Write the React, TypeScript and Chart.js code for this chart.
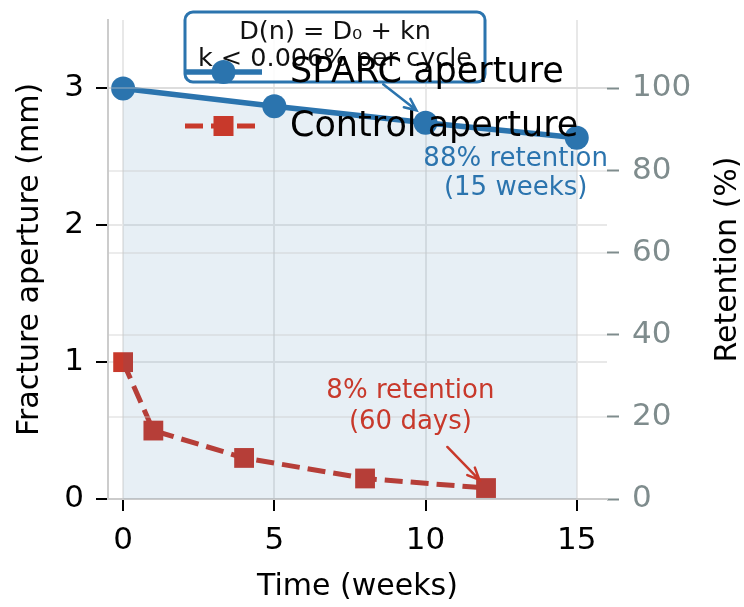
import { useEffect, useRef } from 'react';
import { Chart, registerables } from 'chart.js';

Chart.register(...registerables);

// Fracture aperture over time (mm)
const sparcWeeks = [0, 5, 10, 15];
const sparcAperture = [3.0, 2.87, 2.75, 2.64];
const controlWeeks = [0, 1, 4, 8, 12];
const controlAperture = [1.0, 0.5, 0.3, 0.15, 0.08];

// Axis ticks
const timeTicks = [0, 5, 10, 15];
const apertureTicks = [0, 1, 2, 3];
const retentionTicks = [0, 20, 40, 60, 80, 100];

// Text blocks
const formulaLines = ['D(n) = D₀ + kn', 'k < 0.006% per cycle'];
const sparcNote = ['88% retention', '(15 weeks)'];
const controlNote = ['8% retention', '(60 days)'];

const X_MIN = -0.5;
const X_MAX = 16;
const Y_MAX = 3.5;

const FONT = "'DejaVu Sans', 'Liberation Sans', sans-serif";
const BLUE = '#2b74ae';
const RED = '#c8392b';
const GRAY = '#7f8c8d';
const GRID = '#e8e8e8';
const SPINE = '#cccccc';

function drawArrow(
  ctx: CanvasRenderingContext2D,
  x1: number,
  y1: number,
  x2: number,
  y2: number,
  color: string,
) {
  const ang = Math.atan2(y2 - y1, x2 - x1);
  const head = 13;
  const spread = 0.42;
  ctx.save();
  ctx.strokeStyle = color;
  ctx.lineWidth = 2.5;
  ctx.lineCap = 'round';
  ctx.beginPath();
  ctx.moveTo(x1, y1);
  ctx.lineTo(x2, y2);
  ctx.moveTo(x2 - head * Math.cos(ang - spread), y2 - head * Math.sin(ang - spread));
  ctx.lineTo(x2, y2);
  ctx.lineTo(x2 - head * Math.cos(ang + spread), y2 - head * Math.sin(ang + spread));
  ctx.stroke();
  ctx.restore();
}

// keep the plot area fixed: no extra room for overhanging tick labels
function noLabelPadding(s: any) {
  s.paddingTop = 0;
  s.paddingBottom = 0;
  s.paddingLeft = 0;
  s.paddingRight = 0;
}

const overlay = {
  id: 'overlay',
  afterDatasetsDraw(chart: any) {
    // secondary axis grid sits above the plotted data
    const { ctx, chartArea, scales } = chart;
    const r = scales.y2;
    ctx.save();
    ctx.strokeStyle = 'rgba(200,200,200,0.35)';
    ctx.lineWidth = 2;
    for (const t of r.ticks) {
      const py = Math.round(r.getPixelForValue(t.value));
      ctx.beginPath();
      ctx.moveTo(chartArea.left, py);
      ctx.lineTo(chartArea.right, py);
      ctx.stroke();
    }
    ctx.restore();
  },
  afterDraw(chart: any) {
    const { ctx, scales, chartArea } = chart;
    const xs = scales.x;
    const ys = scales.y;
    const px = (v: number) => xs.getPixelForValue(v);
    const py = (v: number) => ys.getPixelForValue(v);

    ctx.save();

    // formula box
    ctx.beginPath();
    ctx.roundRect(185, 12, 300, 70, 8);
    ctx.fillStyle = 'rgba(255,255,255,0.85)';
    ctx.fill();
    ctx.strokeStyle = BLUE;
    ctx.lineWidth = 3;
    ctx.stroke();
    ctx.fillStyle = '#111';
    ctx.font = `25.5px ${FONT}`;
    ctx.textAlign = 'center';
    ctx.textBaseline = 'alphabetic';
    ctx.fillText(formulaLines[0], 335, 39);
    ctx.fillText(formulaLines[1], 335, 66);

    // legend
    const ds = chart.data.datasets;
    const lx0 = 185;
    const lx1 = 262;
    const mx = (lx0 + lx1) / 2;
    const rows = [72, 126];
    ds.forEach((d: any, i: number) => {
      const yy = rows[i];
      ctx.save();
      ctx.strokeStyle = d.borderColor;
      ctx.lineWidth = d.borderWidth;
      ctx.setLineDash(d.borderDash || []);
      ctx.beginPath();
      ctx.moveTo(lx0, yy);
      ctx.lineTo(lx1, yy);
      ctx.stroke();
      ctx.setLineDash([]);
      ctx.fillStyle = d.pointBackgroundColor;
      if (d.pointStyle === 'rect') {
        const s = 20;
        ctx.fillRect(mx - s / 2, yy - s / 2, s, s);
      } else {
        ctx.beginPath();
        ctx.arc(mx, yy, d.pointRadius, 0, Math.PI * 2);
        ctx.fill();
      }
      ctx.restore();
      ctx.fillStyle = '#000';
      ctx.font = `35px ${FONT}`;
      ctx.textAlign = 'left';
      ctx.textBaseline = 'middle';
      ctx.fillText(d.label, 290, yy + 1);
    });

    // annotations
    ctx.font = `26px ${FONT}`;
    ctx.textAlign = 'center';
    ctx.textBaseline = 'middle';
    ctx.fillStyle = BLUE;
    ctx.fillText(sparcNote[0], px(12.98), py(2.48));
    ctx.fillText(sparcNote[1], px(12.98), py(2.27));
    drawArrow(ctx, px(8.6), py(3.03), px(9.7), py(2.84), BLUE);

    ctx.fillStyle = RED;
    ctx.fillText(controlNote[0], px(9.5), py(0.79));
    ctx.fillText(controlNote[1], px(9.5), py(0.56));
    drawArrow(ctx, px(10.72), py(0.38), px(11.78), py(0.14), RED);

    // right axis title, reading bottom to top
    ctx.save();
    ctx.translate(728, (chartArea.top + chartArea.bottom) / 2);
    ctx.rotate(-Math.PI / 2);
    ctx.fillStyle = '#000';
    ctx.font = `30px ${FONT}`;
    ctx.textAlign = 'center';
    ctx.textBaseline = 'middle';
    ctx.fillText('Retention (%)', 0, 0);
    ctx.restore();

    ctx.restore();
  },
};

export default function App() {
  const ref = useRef<HTMLCanvasElement | null>(null);

  useEffect(() => {
    const canvas = ref.current;
    if (!canvas) return;
    const tickFont = { family: FONT, size: 31 };
    const chart = new Chart(canvas, {
      type: 'line',
      data: {
        datasets: [
          {
            label: 'SPARC aperture',
            data: sparcWeeks.map((w, i) => ({ x: w, y: sparcAperture[i] })),
            borderColor: BLUE,
            backgroundColor: 'rgba(40,105,165,0.11)',
            borderWidth: 5.5,
            pointStyle: 'circle',
            pointRadius: 12,
            pointBackgroundColor: BLUE,
            pointBorderWidth: 0,
            fill: 'origin',
            yAxisID: 'y',
          },
          {
            label: 'Control aperture',
            data: controlWeeks.map((w, i) => ({ x: w, y: controlAperture[i] })),
            borderColor: RED,
            borderWidth: 5,
            borderDash: [18, 8],
            pointStyle: 'rect',
            pointRadius: 14,
            pointBackgroundColor: RED,
            pointBorderWidth: 0,
            fill: false,
            yAxisID: 'y',
          },
        ] as any,
      },
      options: {
        responsive: false,
        animation: false,
        devicePixelRatio: 1,
        layout: { padding: { top: 20, left: 0, right: 0, bottom: 0 } },
        plugins: { legend: { display: false }, tooltip: { enabled: false } },
        scales: {
          x: {
            type: 'linear',
            min: X_MIN,
            max: X_MAX,
            afterBuildTicks: (s: any) => {
              s.ticks = timeTicks.map((v) => ({ value: v }));
            },
            afterFit: (s: any) => {
              s.height = 108;
              noLabelPadding(s);
            },
            ticks: { font: tickFont, color: '#000', padding: 11, maxRotation: 0 },
            grid: { color: GRID, lineWidth: 2, tickColor: '#000', tickLength: 12, tickWidth: 2 },
            border: { color: SPINE, width: 2 },
            title: {
              display: true,
              text: 'Time (weeks)',
              font: { family: FONT, size: 30 },
              color: '#000',
              padding: { top: 0, bottom: 2 },
            },
          },
          y: {
            type: 'linear',
            position: 'left',
            min: 0,
            max: Y_MAX,
            afterBuildTicks: (s: any) => {
              s.ticks = apertureTicks.map((v) => ({ value: v }));
            },
            afterFit: (s: any) => {
              s.width = 108;
              noLabelPadding(s);
            },
            ticks: { font: tickFont, color: '#000', padding: 12 },
            grid: { color: GRID, lineWidth: 2, tickColor: '#000', tickLength: 12, tickWidth: 2 },
            border: { color: SPINE, width: 2 },
            title: {
              display: true,
              text: 'Fracture aperture (mm)',
              font: { family: FONT, size: 30 },
              color: '#000',
              padding: { top: 12, bottom: 0 },
            },
          },
          y2: {
            type: 'linear',
            position: 'right',
            min: 0,
            max: (Y_MAX / sparcAperture[0]) * 100,
            afterBuildTicks: (s: any) => {
              s.ticks = retentionTicks.map((v) => ({ value: v }));
            },
            afterFit: (s: any) => {
              s.width = 137;
              noLabelPadding(s);
            },
            ticks: { font: tickFont, color: GRAY, padding: 13 },
            grid: {
              drawOnChartArea: false,
              tickColor: GRAY,
              tickLength: 12,
              tickWidth: 2,
            },
            border: { display: false },
          },
        },
      } as any,
      plugins: [overlay],
    });
    return () => chart.destroy();
  }, []);

  return (
    <div style={{ position: 'fixed', left: 0, top: 0, width: 744, height: 607, background: '#fff' }}>
      <canvas ref={ref} width={744} height={607} style={{ width: 744, height: 607, display: 'block' }} />
    </div>
  );
}
